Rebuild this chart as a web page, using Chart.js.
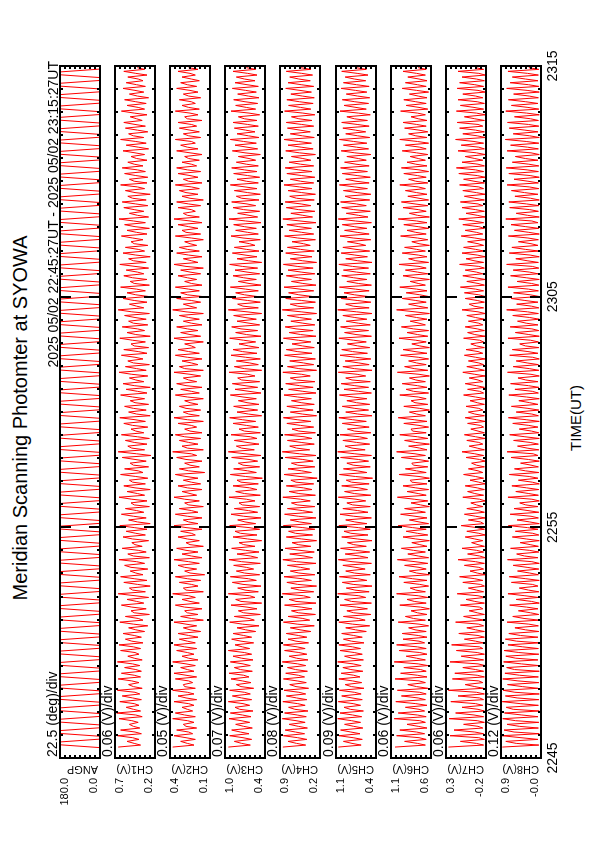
<!DOCTYPE html>
<html><head><meta charset="utf-8">
<script src="https://cdn.jsdelivr.net/npm/chart.js@4"></script>
<style>
html,body{margin:0;padding:0;background:#fff;width:595px;height:842px;overflow:hidden;}
#land{position:absolute;left:0;top:0;width:842px;height:595px;transform-origin:0 0;transform:translate(0px,842px) rotate(-90deg);background:#fff;}
.t{position:absolute;white-space:nowrap;line-height:1;font-family:'Liberation Sans',Arial,Helvetica,sans-serif;color:#000;}
canvas{position:absolute;}
</style></head><body><div id="land"></div>
<script>
// ---------------- DATA ----------------
const titleText = 'Meridian Scanning Photomter at SYOWA';
const periodText = '2025 05/02 22:45:27UT - 2025 05/02 23:15:27UT';
const timeTitle = 'TIME(UT)';
const timeTickValues = [0, 600, 1200, 1800];          // seconds after 22:45:00
const timeTickLabels = ['2245', '2255', '2305', '2315'];
const panelNames = ['ANGP', 'CH1(V)', 'CH2(V)', 'CH3(V)', 'CH4(V)', 'CH5(V)', 'CH6(V)', 'CH7(V)', 'CH8(V)'];
const perDivLabels = ['22.5 (deg)/div', '0.06 (V)/div', '0.05 (V)/div', '0.07 (V)/div', '0.08 (V)/div', '0.09 (V)/div', '0.06 (V)/div', '0.06 (V)/div', '0.12 (V)/div'];
const yTopLabels = ['180.0', '0.7', '0.4', '1.0', '0.9', '1.1', '1.1', '0.3', '0.9'];
const yBottomLabels = ['0.0', '0.2', '0.1', '0.4', '0.2', '0.4', '0.6', '-0.2', '-0.0'];
const yMaxValues = [180, 0.7, 0.4, 1.0, 0.9, 1.1, 1.1, 0.3, 0.9];
const yMinValues = [0, 0.2, 0.1, 0.4, 0.2, 0.4, 0.6, -0.2, -0.02];
const scanStart = 27;      // s, 22:45:27
const scanPeriod = 14.77;  // s per meridian sweep
const angSweep = [0.0, 180.0];

const ch1Hi = [0.66,0.55,0.67,0.63,0.52,0.65,0.68,0.56,0.64,0.61,0.67,0.53,0.66,0.62,0.58,0.67,0.54,0.63,0.65,0.57,
0.60,0.53,0.64,0.57,0.50,0.62,0.55,0.66,0.52,0.59,0.63,0.51,0.58,0.65,0.54,0.61,0.49,0.60,0.56,0.64,
0.53,0.62,0.57,0.50,0.65,0.55,0.59,0.52,0.63,0.58,0.51,0.61,0.66,0.54,0.57,0.62,0.50,0.59,0.64,0.53,
0.58,0.51,0.63,0.56,0.60,0.52,0.65,0.57,0.54,0.62,0.59,0.50,0.64,0.55,0.61,0.53,0.58,0.66,0.52,0.60,
0.55,0.63,0.51,0.59,0.56,0.64,0.53,0.60,0.57,0.50,0.62,0.55,0.58,0.65,0.52,0.59,0.61,0.54,0.57,0.63,
0.52,0.58,0.61,0.54,0.50,0.60,0.56,0.63,0.53,0.57,0.59,0.51,0.62,0.55,0.58,0.52,0.60,0.56,0.54,0.59];
const ch1Lo = [0.38,0.40,0.37,0.39,0.41,0.36,0.38,0.40,0.37,0.39,0.36,0.40,0.38,0.37,0.39,0.36,0.40,0.38,0.35,0.37,
0.33,0.29,0.35,0.27,0.31,0.34,0.28,0.32,0.26,0.30,0.35,0.29,0.33,0.27,0.31,0.36,0.28,0.32,0.30,0.26,
0.31,0.34,0.27,0.30,0.33,0.26,0.32,0.29,0.35,0.28,0.31,0.25,0.33,0.30,0.27,0.34,0.29,0.32,0.26,0.31,
0.28,0.33,0.30,0.26,0.34,0.29,0.31,0.27,0.35,0.30,0.28,0.32,0.26,0.33,0.29,0.31,0.27,0.34,0.30,0.28,
0.32,0.27,0.30,0.34,0.28,0.31,0.26,0.33,0.29,0.35,0.30,0.27,0.32,0.28,0.34,0.29,0.31,0.26,0.33,0.30,
0.29,0.32,0.35,0.30,0.33,0.28,0.31,0.34,0.29,0.32,0.36,0.30,0.33,0.31,0.28,0.34,0.32,0.35,0.30,0.33];
const ch1Mid = [0.46,0.48,0.45,0.47,0.49,0.44,0.47,0.46,0.48,0.45,0.47,0.49,0.46,0.44,0.48,0.46,0.45,0.47,0.49,0.46,
0.44,0.47,0.41,0.46,0.49,0.43,0.45,0.48,0.42,0.46,0.44,0.50,0.43,0.47,0.41,0.45,0.48,0.44,0.46,0.42,
0.47,0.43,0.46,0.49,0.42,0.45,0.48,0.44,0.41,0.47,0.45,0.43,0.49,0.46,0.42,0.44,0.48,0.45,0.43,0.47,
0.45,0.48,0.42,0.46,0.44,0.49,0.43,0.47,0.45,0.41,0.46,0.48,0.44,0.42,0.47,0.45,0.49,0.43,0.46,0.44,
0.43,0.46,0.48,0.42,0.45,0.47,0.44,0.41,0.46,0.48,0.43,0.45,0.47,0.42,0.46,0.44,0.48,0.45,0.42,0.46,
0.44,0.42,0.46,0.43,0.45,0.41,0.44,0.47,0.42,0.45,0.43,0.46,0.41,0.44,0.42,0.45,0.43,0.41,0.44,0.42];

const ch2Hi = [0.38,0.32,0.37,0.35,0.30,0.38,0.36,0.31,0.37,0.34,0.38,0.30,0.36,0.37,0.32,0.38,0.31,0.35,0.37,0.33,
0.34,0.30,0.37,0.32,0.29,0.36,0.31,0.38,0.30,0.33,0.36,0.29,0.34,0.37,0.31,0.35,0.28,0.34,0.32,0.37,
0.30,0.36,0.33,0.29,0.37,0.31,0.34,0.30,0.36,0.33,0.29,0.35,0.38,0.31,0.33,0.36,0.29,0.34,0.37,0.30,
0.33,0.29,0.36,0.32,0.35,0.30,0.37,0.33,0.31,0.36,0.34,0.29,0.37,0.32,0.35,0.30,0.33,0.38,0.30,0.35,
0.32,0.36,0.29,0.34,0.32,0.37,0.30,0.35,0.33,0.29,0.36,0.31,0.34,0.37,0.30,0.34,0.35,0.31,0.33,0.36,
0.30,0.34,0.35,0.31,0.29,0.35,0.32,0.36,0.30,0.33,0.34,0.29,0.36,0.31,0.33,0.30,0.35,0.32,0.31,0.34];
const ch2Lo = [0.22,0.21,0.23,0.20,0.22,0.21,0.23,0.22,0.20,0.22,0.21,0.23,0.20,0.22,0.21,0.19,0.22,0.20,0.21,0.19,
0.17,0.20,0.15,0.19,0.16,0.18,0.21,0.15,0.19,0.17,0.14,0.20,0.18,0.16,0.19,0.15,0.18,0.21,0.16,0.19,
0.16,0.19,0.15,0.18,0.20,0.16,0.17,0.19,0.14,0.18,0.16,0.20,0.15,0.19,0.17,0.16,0.20,0.15,0.18,0.17,
0.19,0.15,0.18,0.16,0.20,0.17,0.15,0.19,0.16,0.18,0.21,0.15,0.17,0.19,0.16,0.18,0.15,0.20,0.17,0.16,
0.18,0.16,0.20,0.17,0.15,0.19,0.16,0.18,0.20,0.15,0.17,0.19,0.16,0.18,0.21,0.17,0.15,0.19,0.18,0.16,
0.19,0.17,0.20,0.18,0.16,0.19,0.21,0.17,0.18,0.20,0.16,0.19,0.18,0.21,0.17,0.19,0.20,0.18,0.21,0.19];
const ch2Mid = [0.27,0.28,0.26,0.28,0.27,0.29,0.27,0.26,0.28,0.27,0.29,0.26,0.28,0.27,0.28,0.26,0.27,0.29,0.27,0.26,
0.25,0.28,0.24,0.27,0.29,0.25,0.26,0.28,0.24,0.27,0.25,0.29,0.26,0.24,0.28,0.25,0.27,0.24,0.28,0.26,
0.27,0.24,0.26,0.29,0.25,0.27,0.24,0.28,0.26,0.25,0.28,0.24,0.27,0.26,0.29,0.25,0.24,0.27,0.26,0.28,
0.25,0.27,0.24,0.28,0.26,0.25,0.29,0.24,0.27,0.26,0.24,0.28,0.25,0.27,0.24,0.26,0.28,0.25,0.24,0.27,
0.26,0.24,0.27,0.25,0.28,0.24,0.26,0.27,0.25,0.24,0.28,0.26,0.25,0.27,0.24,0.26,0.25,0.28,0.24,0.26,
0.25,0.27,0.24,0.26,0.25,0.27,0.24,0.26,0.25,0.24,0.27,0.25,0.26,0.24,0.26,0.25,0.27,0.24,0.25,0.26];

const ch3Hi = [0.95,0.86,0.93,0.90,0.84,0.94,0.92,0.85,0.95,0.89,0.93,0.83,0.91,0.94,0.86,0.92,0.88,0.95,0.85,0.90,
0.88,0.82,0.93,0.86,0.80,0.91,0.84,0.95,0.81,0.89,0.92,0.83,0.87,0.94,0.82,0.90,0.79,0.88,0.85,0.93,
0.81,0.91,0.86,0.79,0.94,0.84,0.88,0.82,0.92,0.87,0.80,0.90,0.95,0.83,0.86,0.91,0.79,0.88,0.93,0.82,
0.87,0.80,0.92,0.85,0.89,0.81,0.94,0.86,0.83,0.91,0.88,0.79,0.93,0.84,0.90,0.82,0.87,0.95,0.81,0.89,
0.84,0.92,0.80,0.88,0.85,0.93,0.82,0.89,0.86,0.79,0.91,0.84,0.87,0.94,0.81,0.88,0.90,0.83,0.86,0.92,
0.82,0.87,0.90,0.83,0.80,0.89,0.85,0.92,0.82,0.86,0.88,0.80,0.91,0.84,0.87,0.81,0.89,0.85,0.83,0.88];
const ch3Lo = [0.62,0.60,0.64,0.59,0.63,0.61,0.58,0.63,0.60,0.62,0.57,0.61,0.64,0.59,0.62,0.58,0.60,0.63,0.57,0.60,
0.54,0.49,0.56,0.47,0.52,0.45,0.55,0.50,0.46,0.53,0.48,0.57,0.47,0.51,0.49,0.55,0.45,0.52,0.48,0.54,
0.46,0.51,0.48,0.55,0.47,0.52,0.50,0.44,0.53,0.48,0.51,0.46,0.56,0.49,0.52,0.47,0.50,0.54,0.45,0.51,
0.49,0.53,0.46,0.51,0.48,0.55,0.45,0.50,0.47,0.52,0.49,0.54,0.46,0.51,0.48,0.53,0.45,0.50,0.47,0.52,
0.50,0.46,0.53,0.48,0.51,0.45,0.52,0.49,0.55,0.47,0.50,0.53,0.46,0.51,0.48,0.54,0.49,0.47,0.52,0.50,
0.48,0.52,0.50,0.54,0.47,0.51,0.53,0.49,0.55,0.50,0.52,0.48,0.54,0.51,0.49,0.53,0.50,0.55,0.52,0.54];
const ch3Mid = [0.75,0.73,0.77,0.72,0.76,0.74,0.78,0.73,0.75,0.71,0.76,0.74,0.72,0.77,0.73,0.75,0.71,0.74,0.76,0.72,
0.69,0.74,0.64,0.72,0.67,0.76,0.63,0.70,0.73,0.65,0.71,0.68,0.75,0.62,0.69,0.72,0.66,0.77,0.64,0.70,
0.72,0.65,0.74,0.68,0.71,0.63,0.76,0.69,0.66,0.73,0.64,0.70,0.75,0.67,0.62,0.71,0.68,0.74,0.65,0.70,
0.67,0.73,0.64,0.70,0.75,0.66,0.71,0.63,0.69,0.74,0.65,0.72,0.68,0.76,0.64,0.70,0.67,0.73,0.66,0.71,
0.69,0.64,0.72,0.67,0.74,0.65,0.70,0.68,0.63,0.73,0.66,0.71,0.69,0.64,0.72,0.67,0.75,0.66,0.70,0.68,
0.66,0.71,0.68,0.64,0.70,0.67,0.72,0.65,0.69,0.66,0.71,0.64,0.68,0.70,0.65,0.69,0.67,0.71,0.66,0.68];

const ch4Hi = [0.85,0.76,0.84,0.81,0.74,0.86,0.82,0.75,0.85,0.79,0.83,0.73,0.84,0.80,0.77,0.86,0.74,0.82,0.84,0.76,
0.79,0.72,0.84,0.76,0.70,0.82,0.74,0.86,0.71,0.78,0.83,0.72,0.77,0.85,0.73,0.81,0.69,0.79,0.75,0.84,
0.72,0.82,0.77,0.70,0.85,0.74,0.79,0.71,0.83,0.76,0.70,0.81,0.86,0.73,0.77,0.82,0.69,0.78,0.84,0.72,
0.78,0.70,0.83,0.75,0.80,0.72,0.85,0.77,0.73,0.82,0.79,0.69,0.84,0.74,0.81,0.71,0.77,0.86,0.72,0.80,
0.75,0.83,0.70,0.79,0.76,0.84,0.72,0.80,0.77,0.69,0.82,0.74,0.78,0.85,0.71,0.79,0.81,0.73,0.76,0.83,
0.72,0.78,0.81,0.74,0.70,0.80,0.76,0.83,0.72,0.77,0.79,0.70,0.82,0.75,0.78,0.71,0.80,0.76,0.73,0.79];
const ch4Lo = [0.45,0.43,0.47,0.42,0.46,0.44,0.41,0.46,0.43,0.45,0.40,0.44,0.47,0.42,0.45,0.41,0.43,0.46,0.40,0.43,
0.36,0.30,0.38,0.28,0.34,0.27,0.37,0.31,0.26,0.35,0.29,0.38,0.27,0.33,0.30,0.36,0.26,0.33,0.29,0.35,
0.27,0.33,0.29,0.37,0.28,0.34,0.31,0.25,0.35,0.29,0.32,0.27,0.38,0.30,0.34,0.28,0.31,0.36,0.26,0.32,
0.30,0.35,0.27,0.32,0.29,0.37,0.26,0.31,0.28,0.34,0.30,0.36,0.27,0.32,0.29,0.35,0.26,0.31,0.28,0.33,
0.31,0.27,0.35,0.29,0.32,0.26,0.34,0.30,0.37,0.28,0.31,0.35,0.27,0.33,0.29,0.36,0.30,0.28,0.34,0.31,
0.29,0.34,0.31,0.36,0.28,0.32,0.35,0.30,0.37,0.31,0.34,0.29,0.36,0.32,0.30,0.35,0.31,0.37,0.33,0.36];
const ch4Mid = [0.61,0.59,0.63,0.58,0.62,0.60,0.64,0.59,0.61,0.57,0.62,0.60,0.58,0.63,0.59,0.61,0.57,0.60,0.62,0.58,
0.55,0.60,0.50,0.58,0.53,0.62,0.49,0.56,0.59,0.51,0.57,0.54,0.61,0.48,0.55,0.58,0.52,0.63,0.50,0.56,
0.58,0.51,0.60,0.54,0.57,0.49,0.62,0.55,0.52,0.59,0.50,0.56,0.61,0.53,0.48,0.57,0.54,0.60,0.51,0.56,
0.53,0.59,0.50,0.56,0.61,0.52,0.57,0.49,0.55,0.60,0.51,0.58,0.54,0.62,0.50,0.56,0.53,0.59,0.52,0.57,
0.55,0.50,0.58,0.53,0.60,0.51,0.56,0.54,0.49,0.59,0.52,0.57,0.55,0.50,0.58,0.53,0.61,0.52,0.56,0.54,
0.52,0.57,0.54,0.50,0.56,0.53,0.58,0.51,0.55,0.52,0.57,0.50,0.54,0.56,0.51,0.55,0.53,0.57,0.52,0.54];

const ch5Hi = [1.06,0.97,1.05,1.02,0.95,1.07,1.03,0.96,1.06,1.00,1.04,0.94,1.05,1.01,0.98,1.07,0.95,1.03,1.05,0.97,
1.00,0.93,1.05,0.97,0.91,1.03,0.95,1.07,0.92,0.99,1.04,0.93,0.98,1.06,0.94,1.02,0.90,1.00,0.96,1.05,
0.93,1.03,0.98,0.91,1.06,0.95,1.00,0.92,1.04,0.97,0.91,1.02,1.07,0.94,0.98,1.03,0.90,0.99,1.05,0.93,
0.99,0.91,1.04,0.96,1.01,0.93,1.06,0.98,0.94,1.03,1.00,0.90,1.05,0.95,1.02,0.92,0.98,1.07,0.93,1.01,
0.96,1.04,0.91,1.00,0.97,1.05,0.93,1.01,0.98,0.90,1.03,0.95,0.99,1.06,0.92,1.00,1.02,0.94,0.97,1.04,
0.93,0.99,1.02,0.95,0.91,1.01,0.97,1.04,0.93,0.98,1.00,0.91,1.03,0.96,0.99,0.92,1.01,0.97,0.94,1.00];
const ch5Lo = [0.66,0.64,0.68,0.63,0.67,0.65,0.62,0.67,0.64,0.66,0.61,0.65,0.68,0.63,0.66,0.62,0.64,0.67,0.61,0.64,
0.57,0.51,0.59,0.49,0.55,0.48,0.58,0.52,0.47,0.56,0.50,0.59,0.48,0.54,0.51,0.57,0.47,0.54,0.50,0.56,
0.48,0.54,0.50,0.58,0.49,0.55,0.52,0.46,0.56,0.50,0.53,0.48,0.59,0.51,0.55,0.49,0.52,0.57,0.47,0.53,
0.51,0.56,0.48,0.53,0.50,0.58,0.47,0.52,0.49,0.55,0.51,0.57,0.48,0.53,0.50,0.56,0.47,0.52,0.49,0.54,
0.52,0.48,0.56,0.50,0.53,0.47,0.55,0.51,0.58,0.49,0.52,0.56,0.48,0.54,0.50,0.57,0.51,0.49,0.55,0.52,
0.50,0.55,0.52,0.57,0.49,0.53,0.56,0.51,0.58,0.52,0.55,0.50,0.57,0.53,0.51,0.56,0.52,0.58,0.54,0.57];
const ch5Mid = [0.82,0.80,0.84,0.79,0.83,0.81,0.85,0.80,0.82,0.78,0.83,0.81,0.79,0.84,0.80,0.82,0.78,0.81,0.83,0.79,
0.76,0.81,0.71,0.79,0.74,0.83,0.70,0.77,0.80,0.72,0.78,0.75,0.82,0.69,0.76,0.79,0.73,0.84,0.71,0.77,
0.79,0.72,0.81,0.75,0.78,0.70,0.83,0.76,0.73,0.80,0.71,0.77,0.82,0.74,0.69,0.78,0.75,0.81,0.72,0.77,
0.74,0.80,0.71,0.77,0.82,0.73,0.78,0.70,0.76,0.81,0.72,0.79,0.75,0.83,0.71,0.77,0.74,0.80,0.73,0.78,
0.76,0.71,0.79,0.74,0.81,0.72,0.77,0.75,0.70,0.80,0.73,0.78,0.76,0.71,0.79,0.74,0.82,0.73,0.77,0.75,
0.73,0.78,0.75,0.71,0.77,0.74,0.79,0.72,0.76,0.73,0.78,0.71,0.75,0.77,0.72,0.76,0.74,0.78,0.73,0.75];

const ch6Hi = [1.05,0.93,1.03,0.99,0.90,1.06,1.01,0.92,1.04,0.97,1.02,0.89,1.05,0.98,0.94,1.06,0.91,1.00,1.03,0.95,
0.96,0.88,1.01,0.92,0.85,0.99,0.90,1.03,0.86,0.94,1.00,0.87,0.93,1.02,0.89,0.97,0.84,0.95,0.91,1.01,
0.87,0.98,0.93,0.85,1.02,0.90,0.95,0.86,1.00,0.92,0.84,0.97,1.03,0.88,0.93,0.99,0.85,0.94,1.01,0.87,
0.94,0.85,0.99,0.91,0.96,0.87,1.02,0.93,0.88,0.98,0.95,0.84,1.00,0.90,0.97,0.86,0.92,1.03,0.88,0.96,
0.91,0.99,0.86,0.95,0.92,1.00,0.88,0.96,0.93,0.84,0.98,0.90,0.94,1.01,0.87,0.95,0.97,0.89,0.92,0.99,
0.88,0.94,0.97,0.90,0.86,0.96,0.92,0.99,0.88,0.93,0.95,0.85,0.98,0.91,0.94,0.87,0.96,0.92,0.89,0.95];
const ch6Lo = [0.67,0.66,0.68,0.65,0.67,0.66,0.68,0.65,0.67,0.66,0.64,0.67,0.65,0.66,0.64,0.67,0.65,0.66,0.68,0.65,
0.66,0.63,0.67,0.65,0.62,0.66,0.64,0.67,0.63,0.65,0.62,0.66,0.64,0.63,0.67,0.65,0.62,0.64,0.66,0.63,
0.65,0.67,0.62,0.64,0.66,0.63,0.65,0.62,0.66,0.64,0.63,0.67,0.65,0.62,0.64,0.66,0.63,0.65,0.67,0.62,
0.64,0.66,0.63,0.65,0.67,0.62,0.64,0.66,0.63,0.65,0.62,0.66,0.64,0.63,0.67,0.65,0.62,0.64,0.66,0.63,
0.65,0.67,0.62,0.64,0.66,0.63,0.65,0.67,0.62,0.64,0.66,0.63,0.65,0.62,0.66,0.64,0.63,0.65,0.67,0.64,
0.66,0.63,0.65,0.67,0.64,0.66,0.63,0.65,0.64,0.66,0.65,0.67,0.64,0.66,0.65,0.63,0.66,0.65,0.67,0.66];
const ch6Mid = [0.77,0.75,0.78,0.76,0.74,0.77,0.75,0.79,0.76,0.74,0.78,0.75,0.77,0.73,0.76,0.78,0.74,0.77,0.75,0.76,
0.80,0.75,0.82,0.77,0.73,0.81,0.76,0.79,0.74,0.83,0.78,0.75,0.80,0.76,0.82,0.74,0.79,0.77,0.83,0.75,
0.80,0.78,0.73,0.81,0.76,0.79,0.84,0.75,0.78,0.82,0.76,0.80,0.74,0.79,0.77,0.83,0.75,0.81,0.78,0.74,
0.80,0.76,0.82,0.77,0.79,0.75,0.81,0.78,0.76,0.80,0.74,0.79,0.77,0.82,0.75,0.78,0.80,0.76,0.79,0.74,
0.78,0.76,0.80,0.77,0.75,0.79,0.76,0.78,0.75,0.77,0.79,0.76,0.78,0.77,0.76,0.80,0.75,0.78,0.76,0.79,
0.77,0.75,0.79,0.76,0.78,0.74,0.77,0.79,0.75,0.78,0.76,0.77,0.75,0.79,0.76,0.78,0.77,0.75,0.78,0.76];

const ch7Hi = [0.27,0.12,0.25,0.20,0.08,0.26,0.18,0.10,0.24,0.15,0.27,0.06,0.22,0.19,0.09,0.25,0.11,0.17,0.23,0.07,
0.14,0.04,0.18,0.08,0.01,0.12,0.05,0.16,0.02,0.09,0.13,0.00,0.07,0.15,0.03,0.10,-0.02,0.06,0.04,0.11,
0.02,0.07,0.04,-0.01,0.09,0.03,0.06,0.00,0.08,0.02,-0.02,0.05,0.10,0.01,0.04,0.07,-0.01,0.03,0.06,0.02,
0.05,0.00,0.08,0.03,0.06,0.01,0.09,0.04,0.02,0.07,0.05,-0.01,0.08,0.03,0.06,0.02,0.04,0.10,0.01,0.06,
0.07,0.12,0.04,0.09,0.06,0.13,0.05,0.10,0.08,0.03,0.11,0.06,0.09,0.14,0.05,0.10,0.12,0.07,0.09,0.13,
0.08,0.14,0.17,0.10,0.06,0.15,0.11,0.18,0.09,0.13,0.16,0.07,0.17,0.12,0.15,0.09,0.16,0.13,0.10,0.15];
const ch7Lo = [-0.17,-0.18,-0.17,-0.16,-0.18,-0.17,-0.18,-0.16,-0.17,-0.18,-0.17,-0.16,-0.18,-0.17,-0.19,-0.17,-0.18,-0.16,-0.17,-0.18,
-0.18,-0.17,-0.19,-0.18,-0.16,-0.18,-0.19,-0.17,-0.18,-0.16,-0.19,-0.17,-0.18,-0.19,-0.17,-0.18,-0.16,-0.19,-0.18,-0.17,
-0.19,-0.18,-0.16,-0.19,-0.17,-0.18,-0.19,-0.17,-0.16,-0.18,-0.19,-0.17,-0.18,-0.16,-0.19,-0.18,-0.17,-0.19,-0.18,-0.16,
-0.18,-0.19,-0.17,-0.18,-0.16,-0.19,-0.18,-0.17,-0.19,-0.16,-0.18,-0.17,-0.19,-0.18,-0.16,-0.18,-0.19,-0.17,-0.18,-0.19,
-0.17,-0.18,-0.19,-0.16,-0.18,-0.17,-0.19,-0.18,-0.17,-0.19,-0.16,-0.18,-0.17,-0.19,-0.18,-0.16,-0.18,-0.19,-0.17,-0.18,
-0.19,-0.17,-0.18,-0.16,-0.19,-0.18,-0.17,-0.19,-0.18,-0.16,-0.18,-0.19,-0.17,-0.18,-0.16,-0.19,-0.17,-0.18,-0.19,-0.17];
const ch7Mid = [-0.08,-0.11,-0.06,-0.10,-0.09,-0.05,-0.10,-0.07,-0.12,-0.08,-0.06,-0.11,-0.09,-0.07,-0.10,-0.05,-0.09,-0.12,-0.07,-0.10,
-0.07,-0.11,-0.05,-0.09,-0.12,-0.06,-0.10,-0.08,-0.13,-0.06,-0.09,-0.11,-0.07,-0.12,-0.08,-0.10,-0.06,-0.11,-0.09,-0.13,
-0.07,-0.10,-0.08,-0.12,-0.06,-0.09,-0.11,-0.07,-0.10,-0.08,-0.12,-0.06,-0.09,-0.11,-0.07,-0.10,-0.13,-0.08,-0.06,-0.11,
-0.09,-0.07,-0.12,-0.08,-0.10,-0.06,-0.09,-0.11,-0.07,-0.10,-0.08,-0.12,-0.06,-0.09,-0.11,-0.07,-0.10,-0.05,-0.09,-0.11,
-0.07,-0.10,-0.06,-0.08,-0.11,-0.05,-0.09,-0.07,-0.10,-0.06,-0.08,-0.11,-0.05,-0.09,-0.07,-0.10,-0.06,-0.08,-0.11,-0.05,
-0.09,-0.07,-0.10,-0.06,-0.08,-0.11,-0.05,-0.09,-0.07,-0.10,-0.06,-0.08,-0.05,-0.09,-0.07,-0.10,-0.06,-0.08,-0.11,-0.07];

const ch8Hi = [0.87,0.79,0.88,0.83,0.76,0.86,0.82,0.78,0.87,0.80,0.85,0.75,0.86,0.81,0.77,0.84,0.79,0.83,0.74,0.80,
0.72,0.58,0.76,0.63,0.50,0.70,0.55,0.74,0.48,0.66,0.71,0.52,0.62,0.75,0.54,0.68,0.46,0.64,0.57,0.73,
0.53,0.69,0.60,0.47,0.74,0.56,0.65,0.50,0.71,0.59,0.45,0.67,0.76,0.52,0.61,0.70,0.48,0.63,0.73,0.55,
0.66,0.49,0.72,0.58,0.68,0.51,0.75,0.62,0.55,0.70,0.64,0.47,0.74,0.57,0.69,0.52,0.63,0.77,0.54,0.67,
0.61,0.74,0.53,0.68,0.62,0.77,0.56,0.71,0.65,0.50,0.73,0.59,0.67,0.79,0.55,0.70,0.72,0.58,0.66,0.76,
0.60,0.72,0.78,0.64,0.57,0.76,0.68,0.80,0.62,0.71,0.75,0.59,0.79,0.66,0.73,0.61,0.77,0.69,0.64,0.74];
const ch8Lo = [0.03,0.05,0.02,0.04,0.03,0.05,0.02,0.04,0.03,0.02,0.05,0.03,0.04,0.02,0.03,0.05,0.03,0.04,0.02,0.05,
0.03,0.04,0.02,0.03,0.05,0.02,0.04,0.03,0.05,0.02,0.04,0.03,0.02,0.05,0.03,0.04,0.02,0.03,0.05,0.02,
0.04,0.03,0.05,0.02,0.04,0.03,0.02,0.05,0.03,0.04,0.02,0.05,0.03,0.04,0.02,0.03,0.05,0.02,0.04,0.03,
0.05,0.02,0.04,0.03,0.05,0.02,0.03,0.04,0.02,0.05,0.03,0.04,0.02,0.03,0.05,0.02,0.04,0.03,0.05,0.02,
0.04,0.03,0.02,0.05,0.03,0.04,0.02,0.03,0.05,0.04,0.02,0.03,0.05,0.02,0.04,0.03,0.02,0.05,0.03,0.04,
0.02,0.04,0.03,0.05,0.02,0.04,0.03,0.02,0.05,0.03,0.04,0.02,0.03,0.05,0.04,0.02,0.03,0.05,0.04,0.03];
const ch8Mid = [0.55,0.44,0.60,0.48,0.57,0.42,0.62,0.46,0.53,0.58,0.41,0.51,0.47,0.59,0.43,0.56,0.49,0.40,0.54,0.45,
0.34,0.26,0.37,0.22,0.31,0.20,0.35,0.27,0.18,0.33,0.24,0.30,0.19,0.36,0.25,0.23,0.32,0.17,0.29,0.24,
0.21,0.28,0.33,0.19,0.26,0.31,0.18,0.25,0.34,0.21,0.27,0.16,0.30,0.23,0.35,0.20,0.26,0.32,0.19,0.28,
0.24,0.31,0.18,0.27,0.33,0.21,0.25,0.30,0.17,0.28,0.34,0.22,0.26,0.19,0.32,0.24,0.29,0.20,0.35,0.23,
0.27,0.20,0.32,0.25,0.18,0.30,0.23,0.34,0.21,0.28,0.26,0.33,0.19,0.29,0.24,0.31,0.22,0.36,0.25,0.28,
0.23,0.30,0.26,0.34,0.21,0.29,0.32,0.24,0.35,0.27,0.22,0.31,0.28,0.33,0.25,0.30,0.27,0.34,0.29,0.26];

// ---------------- LAYOUT ----------------
const LAND_W = 842;
const PANEL_LEFT = 84, PANEL_W = 692, PANEL_H = 40, PANEL_TOP0 = 60, PANEL_PITCH = 55.1, PAD = 4;
const LINE_COLOR = '#ff0000';
const land = document.getElementById('land');

function addText(str, x, baseline, size, align, rotate) {
  const d = document.createElement('div');
  d.className = 't';
  d.textContent = str;
  d.style.fontSize = size + 'px';
  if (rotate) {
    d.style.left = (x - 0.8465 * size) + 'px';
    d.style.top = baseline + 'px';
    d.style.transformOrigin = '0 0';
    d.style.transform = 'rotate(-90deg)';
  } else {
    d.style.top = (baseline - 0.8465 * size) + 'px';
    if (align === 'right') d.style.right = (LAND_W - x) + 'px';
    else if (align === 'center') { d.style.left = x + 'px'; d.style.transform = 'translateX(-50%)'; }
    else d.style.left = x + 'px';
  }
  land.appendChild(d);
  return d;
}

function channelPoints(hi, lo, mid) {
  const pts = [];
  for (let i = 0; i < hi.length; i++) {
    const t = scanStart + i * scanPeriod;
    pts.push({ x: t + 0.10 * scanPeriod, y: hi[i] });
    pts.push({ x: t + 0.45 * scanPeriod, y: lo[i] });
    pts.push({ x: t + 0.75 * scanPeriod, y: mid[i] });
  }
  return pts;
}
// each sweep: the mirror moves across the meridian, then rests at the end angle
function anglePoints(n) {
  const pts = [];
  for (let i = 0; i < n; i++) {
    const t = scanStart + i * scanPeriod;
    pts.push({ x: t, y: angSweep[i % 2] });
    pts.push({ x: t + 0.5 * scanPeriod, y: angSweep[(i + 1) % 2] });
  }
  return pts;
}

const series = [
  anglePoints(ch1Hi.length),
  channelPoints(ch1Hi, ch1Lo, ch1Mid),
  channelPoints(ch2Hi, ch2Lo, ch2Mid),
  channelPoints(ch3Hi, ch3Lo, ch3Mid),
  channelPoints(ch4Hi, ch4Lo, ch4Mid),
  channelPoints(ch5Hi, ch5Lo, ch5Mid),
  channelPoints(ch6Hi, ch6Lo, ch6Mid),
  channelPoints(ch7Hi, ch7Lo, ch7Mid),
  channelPoints(ch8Hi, ch8Lo, ch8Mid)
];

const framePlugin = {
  id: 'frameTicks',
  afterDatasetsDraw(chart) {
    const { ctx, chartArea: a, scales: { x, y } } = chart;
    ctx.save();
    ctx.strokeStyle = '#000';
    ctx.lineWidth = 2;
    ctx.beginPath();
    for (let m = 0; m <= 30; m++) {
      const px = Math.round(x.getPixelForValue(m * 60));
      const len = (m % 10 === 0) ? 11 : 3;
      ctx.moveTo(px, a.top); ctx.lineTo(px, a.top + len);
      ctx.moveTo(px, a.bottom); ctx.lineTo(px, a.bottom - len);
    }
    for (let k = 1; k < 8; k++) {
      const py = Math.round(y.getPixelForValue(y.min + (y.max - y.min) * k / 8));
      ctx.moveTo(a.left, py); ctx.lineTo(a.left + 3, py);
      ctx.moveTo(a.right, py); ctx.lineTo(a.right - 3, py);
    }
    ctx.stroke();
    ctx.strokeRect(a.left, a.top, a.right - a.left, a.bottom - a.top);
    ctx.restore();
  }
};

let lastChart = null, lastLeft = 0;
for (let i = 0; i < series.length; i++) {
  const top = Math.round(PANEL_TOP0 + i * PANEL_PITCH);
  const cv = document.createElement('canvas');
  const w = PANEL_W + 2 * PAD, h = PANEL_H + 2 * PAD;
  cv.width = w; cv.height = h;
  cv.style.width = w + 'px'; cv.style.height = h + 'px';
  cv.style.left = (PANEL_LEFT - PAD) + 'px';
  cv.style.top = (top - PAD) + 'px';
  land.appendChild(cv);
  const chart = new Chart(cv, {
    type: 'line',
    data: { datasets: [{ data: series[i], borderColor: LINE_COLOR, borderWidth: 1, pointRadius: 0, tension: 0, fill: false }] },
    options: {
      responsive: false, animation: false, devicePixelRatio: 1, parsing: false, events: [],
      layout: { padding: PAD },
      scales: {
        x: { type: 'linear', min: 0, max: 1800, display: false },
        y: { type: 'linear', min: yMinValues[i], max: yMaxValues[i], display: false }
      },
      plugins: { legend: { display: false }, tooltip: { enabled: false } }
    },
    plugins: [framePlugin]
  });
  lastChart = chart; lastLeft = PANEL_LEFT - PAD;

  addText(perDivLabels[i], PANEL_LEFT + 1, top - 3, 14, 'left');
  addText(yTopLabels[i], 64, top + 8.5, 11, 'right');
  addText(yBottomLabels[i], 64, top + PANEL_H - 3, 11, 'right');
  addText(panelNames[i], 76, top + PANEL_H - 2, 11, 'left', true);
}

const bottomTop = Math.round(PANEL_TOP0 + (series.length - 1) * PANEL_PITCH);
for (let k = 0; k < timeTickValues.length; k++) {
  const px = lastLeft + lastChart.scales.x.getPixelForValue(timeTickValues[k]);
  addText(timeTickLabels[k], px, bottomTop + PANEL_H + 16, 14, 'center');
}
const midX = lastLeft + (lastChart.chartArea.left + lastChart.chartArea.right) / 2;
addText(timeTitle, midX - 6, bottomTop + PANEL_H + 40, 15, 'center');
addText(titleText, midX - 6, 27, 20, 'center');
addText(periodText, PANEL_LEFT + PANEL_W + 5, 58, 14, 'right');
</script></body></html>
